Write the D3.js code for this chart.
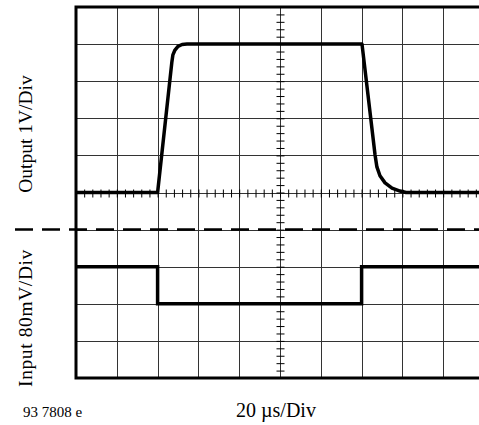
<!DOCTYPE html>
<html><head><meta charset="utf-8">
<script src="https://cdn.jsdelivr.net/npm/d3@7"></script>
<style>body{margin:0;background:#fff}svg{display:block}</style>
</head><body>
<script>
// time in µs (20 µs/Div), grid of 10 divisions
const timeDivs = [0,20,40,60,80,100,120,140,160,180,200];
const vertDivs = [-5,-4,-3,-2,-1,0,1,2,3,4,5];
// Output trace: time (µs), volts (1 V/Div)
const outT = [0, 40, 47.0, 47.5, 48.5, 50.0, 52.0, 54.4, 140.2, 146.6, 147.5, 149.0, 151.5, 154.9, 158.8, 161.8, 200];
const outV = [0, 0, 3.52, 3.71, 3.84, 3.94, 3.99, 4, 4, 1.01, 0.69, 0.45, 0.26, 0.12, 0.04, 0, 0];
// Input trace: time (µs), mV (80 mV/Div)
const inT = [0, 40, 40, 140, 140, 200];
const inMV = [0, 0, -80, -80, 0, 0];
const outOffsetDiv = 0;   // output zero on centre line
const inOffsetDiv = -2;   // input reference two divisions below centre
const labels = {out: "Output 1V/Div", inp: "Input 80mV/Div", time: "20 µs/Div", code: "93 7808 e"};

const W = 479, H = 425;
const svg = d3.select("body").append("svg").attr("width", W).attr("height", H);
const x = d3.scaleLinear().domain([0, 200]).range([76, 484]);
const y = d3.scaleLinear().domain([-5, 5]).range([378, 7]);

// grid
const g = svg.append("g");
g.selectAll("line.v").data(timeDivs).join("line")
  .attr("x1", d => Math.round(x(d)) + 0.5).attr("x2", d => Math.round(x(d)) + 0.5)
  .attr("y1", y(5)).attr("y2", y(-5)).attr("stroke", "#333").attr("stroke-width", 1);
g.selectAll("line.h").data(vertDivs).join("line")
  .attr("x1", x(0)).attr("x2", W)
  .attr("y1", d => Math.round(y(d)) + 0.5).attr("y2", d => Math.round(y(d)) + 0.5)
  .attr("stroke", "#333").attr("stroke-width", 1);

// centre axes with minor ticks
const minorX = d3.range(0, 201, 4);
const minorY = d3.range(-5, 5.01, 0.2);
const ax = svg.append("g").attr("transform", `translate(0,${Math.round(y(0)) + 0.5 - 4})`)
  .call(d3.axisBottom(x).tickValues(minorX).tickSize(8).tickFormat(""));
ax.select(".domain").remove();
ax.selectAll(".tick line").attr("stroke", "#000");
const ay = svg.append("g").attr("transform", `translate(${Math.round(x(100)) + 0.5 + 4},0)`)
  .call(d3.axisLeft(y).tickValues(minorY).tickSize(8).tickFormat(""));
ay.select(".domain").remove();
ay.selectAll(".tick line").attr("stroke", "#000");

// frame (left, top, bottom)
svg.append("path")
  .attr("d", `M${W},${y(5)}H${x(0)}V${y(-5)}H${W}`)
  .attr("fill", "none").attr("stroke", "#000").attr("stroke-width", 3);

// dashed separator
svg.append("line").attr("x1", 15).attr("x2", W)
  .attr("y1", y(-1)).attr("y2", y(-1))
  .attr("stroke", "#000").attr("stroke-width", 2.5).attr("stroke-dasharray", "18,9");

// traces
const outLine = d3.line().x((d, i) => x(outT[i])).y((d, i) => y(outV[i] + outOffsetDiv));
svg.append("path").attr("d", outLine(outT)).attr("fill", "none")
  .attr("stroke", "#000").attr("stroke-width", 3.5).attr("stroke-linejoin", "round");
const inLine = d3.line().x((d, i) => x(inT[i])).y((d, i) => y(inMV[i] / 80 + inOffsetDiv));
svg.append("path").attr("d", inLine(inT)).attr("fill", "none")
  .attr("stroke", "#000").attr("stroke-width", 3.5);

// labels
const font = "'Liberation Serif','Times New Roman',serif";
svg.append("text").attr("transform", `translate(32,134) rotate(-90)`)
  .attr("text-anchor", "middle").attr("font-family", font).attr("font-size", 19.5).text(labels.out);
svg.append("text").attr("transform", `translate(32,318) rotate(-90)`)
  .attr("text-anchor", "middle").attr("font-family", font).attr("font-size", 19.5)
  .attr("letter-spacing", 0.6).text(labels.inp);
svg.append("text").attr("x", 276).attr("y", 417)
  .attr("text-anchor", "middle").attr("font-family", font).attr("font-size", 20).text(labels.time);
svg.append("text").attr("x", 23).attr("y", 417)
  .attr("font-family", font).attr("font-size", 15).text(labels.code);
</script>
</body></html>
